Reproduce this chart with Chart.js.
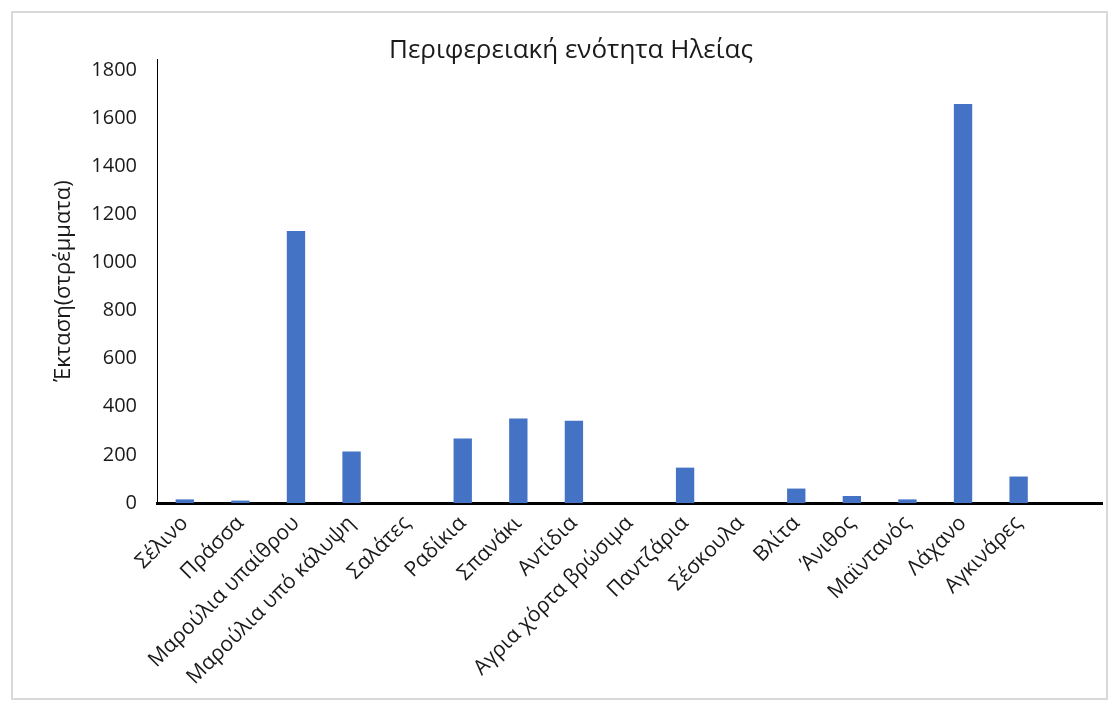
<!DOCTYPE html>
<html lang="el">
<head>
<meta charset="utf-8">
<title>Περιφερειακή ενότητα Ηλείας</title>
<script src="https://cdn.jsdelivr.net/npm/chart.js@4.4.1/dist/chart.umd.min.js"></script>
<style>
  html, body { margin: 0; padding: 0; background: #fff; }
  .chart-wrap { position: relative; width: 1119px; height: 713px; }
  .frame {
    position: absolute; left: 11px; top: 11px;
    width: 1093px; height: 685px;
    border: 2px solid #d9d9d9;
  }
  canvas { position: absolute; left: 0; top: 0; }
</style>
</head>
<body>
<div class="chart-wrap">
  <div class="frame"></div>
  <canvas id="chart" width="1119" height="713"></canvas>
</div>
<script>
// κατηγορίες (η τελευταία είναι κενή θέση στον άξονα)
const categories = [
  "Σέλινο", "Πράσσα", "Μαρούλια υπαίθρου", "Μαρούλια υπό κάλυψη", "Σαλάτες",
  "Ραδίκια", "Σπανάκι", "Αντίδια", "Αγρια χόρτα βρώσιμα", "Παντζάρια",
  "Σέσκουλα", "Βλίτα", "Άνιθος", "Μαϊντανός", "Λάχανο", "Αγκινάρες", ""
];
// έκταση σε στρέμματα
const areaValues = [15, 10, 1130, 214, 0, 268, 351, 342, 0, 147, 0, 60, 29, 15, 1658, 110, null];
const yTicks = [0, 200, 400, 600, 800, 1000, 1200, 1400, 1600, 1800];

const chartTitle = "Περιφερειακή ενότητα Ηλείας";
const yTitle = "Έκταση(στρέμματα)";

const fontFamily = "'Open Sans', 'Noto Sans', sans-serif";
const textColor = "#1a1a1a";

const ctx = document.getElementById("chart").getContext("2d");
new Chart(ctx, {
  type: "bar",
  data: {
    labels: categories,
    datasets: [
      {
        label: yTitle,
        data: areaValues,
        backgroundColor: "#4472C4",
        borderWidth: 0,
        categoryPercentage: 1,
        barPercentage: 0.33,
      },
    ],
  },
  options: {
    responsive: false,
    animation: false,
    layout: {
      padding: { left: 40, right: 17, top: 34, bottom: 0 },
    },
    plugins: {
      legend: { display: false },
      tooltip: { enabled: false },
      title: {
        display: true,
        text: chartTitle,
        color: textColor,
        font: { family: fontFamily, size: 26, weight: "normal", lineHeight: 1 },
        padding: { top: 4, bottom: -5 },
      },
    },
    scales: {
      x: {
        grid: { display: false, drawTicks: false },
        border: { display: true, color: "#000", width: 3 },
        ticks: {
          autoSkip: false,
          minRotation: 45,
          maxRotation: 45,
          padding: 8,
          color: textColor,
          font: { family: fontFamily, size: 21 },
        },
        afterFit: (scale) => {
          scale.height = 210;
        },
      },
      y: {
        min: 0,
        max: 1845,
        grid: { display: false, drawTicks: false },
        border: { display: true, color: "#000", width: 1 },
        afterBuildTicks: (scale) => {
          scale.ticks = yTicks.map((v) => ({ value: v }));
        },
        ticks: {
          padding: 20,
          color: textColor,
          font: { family: fontFamily, size: 20 },
          callback: (value) => String(value),
        },
        title: {
          display: true,
          text: yTitle,
          color: textColor,
          font: { family: fontFamily, size: 22 },
          padding: { top: 11, bottom: 0 },
        },
        afterFit: (scale) => {
          scale.width = 117;
        },
      },
    },
  },
});
</script>
</body>
</html>
